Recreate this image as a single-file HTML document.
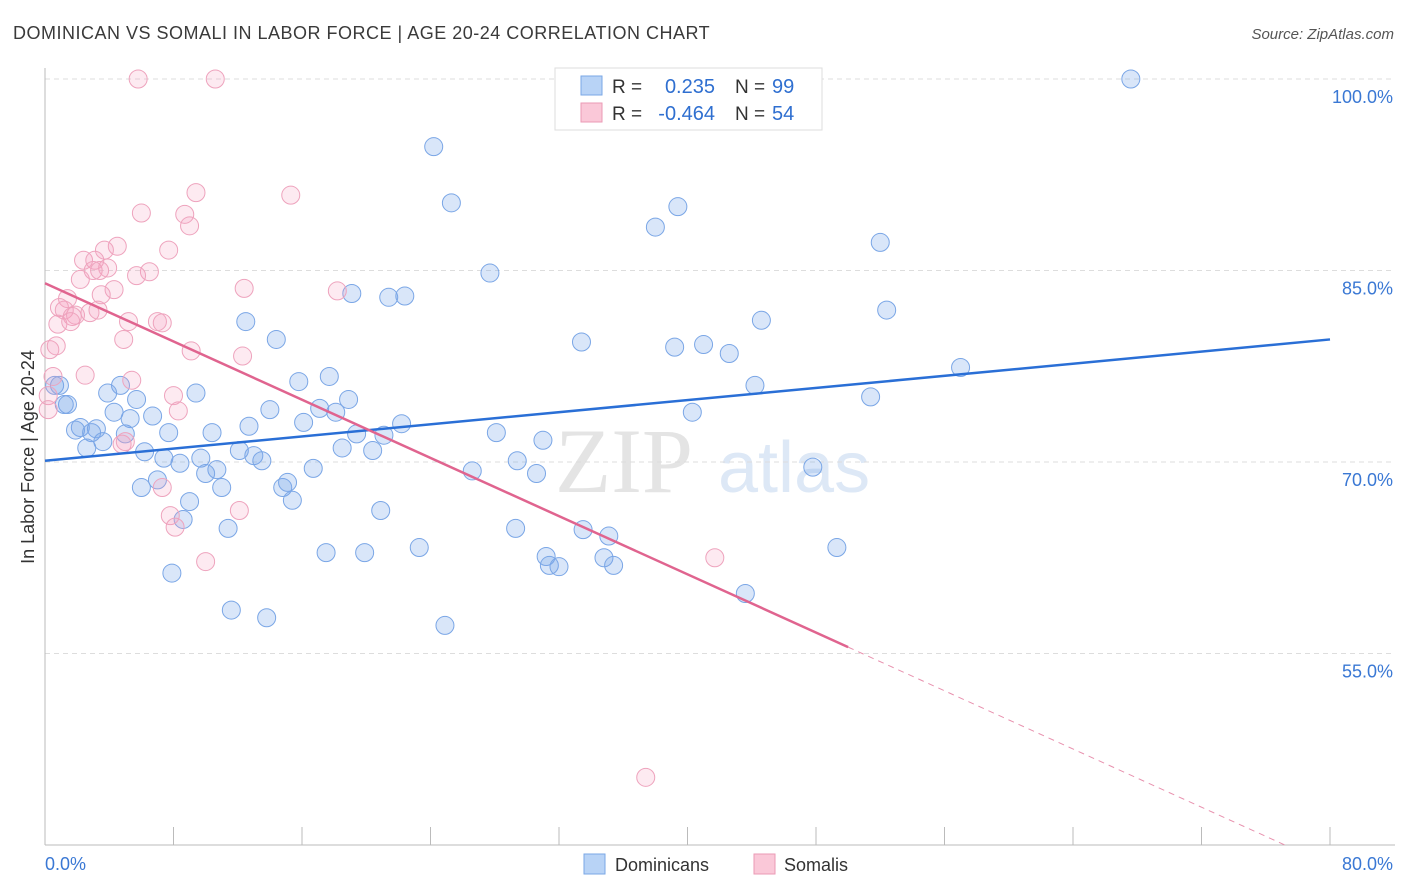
<!DOCTYPE html>
<html><head><meta charset="utf-8"><style>
body{margin:0;background:#fff;font-family:"Liberation Sans",sans-serif;}
svg{display:block}
</style></head><body>
<svg id="chart" width="1406" height="892" xmlns="http://www.w3.org/2000/svg" font-family="Liberation Sans, sans-serif">
<text x="13" y="39" font-size="18" fill="#3a3a3a" letter-spacing="0.5">DOMINICAN VS SOMALI IN LABOR FORCE | AGE 20-24 CORRELATION CHART</text>
<text x="1394" y="39" font-size="15" fill="#555" text-anchor="end" font-style="italic">Source: ZipAtlas.com</text>
<g>
<text x="555" y="492" font-size="92" fill="#e4e4e4" font-family="Liberation Serif, serif">ZIP</text>
<text x="718" y="492" font-size="72" fill="#dde8f6">atlas</text>
</g>
<g id="grid"></g>
<g id="axes"></g>
<g id="pts"></g>
<g id="trends"></g>
<text transform="translate(34,457) rotate(-90)" font-size="18" fill="#333" text-anchor="middle">In Labor Force | Age 20-24</text>
<g>
<rect x="555" y="68" width="267" height="62" fill="#fff" stroke="#ddd"/>
<rect x="581" y="76" width="21" height="19" fill="#b8d3f6" stroke="#7aa7e6"/>
<rect x="581" y="103" width="21" height="19" fill="#fac8d8" stroke="#eb9ab5"/>
<text x="612" y="93" font-size="19" fill="#333">R =</text>
<text x="715" y="93" font-size="20" fill="#2f6fd0" text-anchor="end">0.235</text>
<text x="735" y="93" font-size="19" fill="#333">N =</text>
<text x="772" y="93" font-size="20" fill="#2f6fd0">99</text>
<text x="612" y="120" font-size="19" fill="#333">R =</text>
<text x="715" y="120" font-size="20" fill="#2f6fd0" text-anchor="end">-0.464</text>
<text x="735" y="120" font-size="19" fill="#333">N =</text>
<text x="772" y="120" font-size="20" fill="#2f6fd0">54</text>
</g>
<g>
<rect x="584" y="854" width="21" height="20" fill="#b8d3f6" stroke="#7aa7e6"/>
<text x="615" y="871" font-size="18" fill="#333">Dominicans</text>
<rect x="754" y="854" width="21" height="20" fill="#fac8d8" stroke="#eb9ab5"/>
<text x="784" y="871" font-size="18" fill="#333">Somalis</text>
</g>
</svg>
<script>
const blueX=[67.6,24.2,25.3,39.4,38.0,52.0,27.7,19.1,21.4,22.4,52.4,44.6,12.5,33.4,14.4,39.2,41.0,42.6,0.6,0.9,57.0,15.8,17.7,44.2,4.7,3.9,9.4,5.7,18.9,51.4,1.4,1.2,4.3,14.0,17.1,18.1,40.3,6.7,5.3,22.2,16.1,2.2,1.9,3.2,2.9,12.7,19.4,21.1,10.4,7.7,5.0,28.1,3.6,2.6,31.0,6.2,12.1,20.4,18.5,13.0,13.5,7.4,9.7,29.4,8.4,47.8,16.7,26.6,10.7,10.0,30.6,7.0,6.0,11.0,14.8,15.1,15.4,9.0,8.6,20.9,11.4,29.3,33.5,35.1,23.3,49.3,17.5,19.9,31.2,34.8,31.4,32.0,35.4,7.9,43.6,11.6,13.8,24.9];
const blueY=[100.0,94.7,90.3,90.0,88.4,87.2,84.8,83.2,82.9,83.0,81.9,81.1,81.0,79.4,79.6,79.0,79.2,78.5,76.0,76.0,77.4,76.3,76.7,76.0,76.0,75.4,75.4,74.9,74.9,75.1,74.5,74.5,73.9,74.1,74.2,73.9,73.9,73.6,73.4,73.0,73.1,72.7,72.5,72.6,72.3,72.8,72.2,72.1,72.3,72.3,72.2,72.3,71.6,71.1,71.7,70.8,70.9,70.9,71.1,70.5,70.1,70.3,70.3,70.1,69.9,69.6,69.5,69.3,69.4,69.1,69.1,68.6,68.0,68.0,68.0,68.4,67.0,66.9,65.5,66.2,64.8,64.8,64.7,64.2,63.3,63.3,62.9,62.9,62.6,62.5,61.9,61.8,61.9,61.3,59.7,58.4,57.8,57.2];
const pinkX=[5.8,10.6,9.4,15.3,6.0,8.7,9.0,4.5,3.7,7.7,2.4,3.1,3.9,6.5,5.7,2.2,3.0,3.4,12.4,18.2,4.3,1.4,3.5,0.9,1.2,1.9,2.8,3.3,1.7,0.8,1.6,5.2,7.0,7.3,4.9,0.3,0.7,9.1,12.3,2.5,0.5,5.4,0.2,8.0,0.2,8.3,4.8,5.0,7.3,7.8,8.1,12.1,10.0,41.7,37.4];
const pinkY=[100.0,100.0,91.1,90.9,89.5,89.4,88.5,86.9,86.6,86.6,85.8,85.8,85.2,84.9,84.6,84.3,85.0,85.0,83.6,83.4,83.5,82.8,83.1,82.1,81.9,81.5,81.7,81.9,81.4,80.8,81.0,81.0,81.0,80.9,79.6,78.8,79.1,78.7,78.3,76.8,76.7,76.4,75.2,75.2,74.1,74.0,71.4,71.6,68.0,65.8,64.9,66.2,62.2,62.5,45.3];
const yTicks=[100,85,70,55];
const yTickLabels=["100.0%","85.0%","70.0%","55.0%"];
const blueTrend=[70.1,79.6];
const pinkTrend=[84.0,38.4];
const pinkSolidEnd=50.0;

const X0=45,X1=1330,Y0=845,YT=68;
const sx=v=>X0+(v/80)*(X1-X0);
const sy=v=>79+(100-v)*191.5/15;
const NS="http://www.w3.org/2000/svg";
function mk(tag,attrs,parent){const e=document.createElementNS(NS,tag);for(const k in attrs)e.setAttribute(k,attrs[k]);parent.appendChild(e);return e;}
const grid=document.getElementById('grid'),axes=document.getElementById('axes'),pts=document.getElementById('pts'),tr=document.getElementById('trends');
yTicks.forEach((t,i)=>{
 const l=mk('line',{x1:X0,x2:1395,y1:sy(t),y2:sy(t),stroke:'#ddd','stroke-dasharray':'5,4'},grid);
 
 
 const tx=mk('text',{x:1393,y:sy(t)+24,'font-size':18,fill:'#3a78d4','text-anchor':'end'},axes);
 tx.textContent=yTickLabels[i];
 
 
});
const ya=mk('line',{x1:X0,x2:X0,y1:YT,y2:Y0,stroke:'#bbb'},axes);


const xa=mk('line',{x1:X0,x2:1395,y1:Y0,y2:Y0,stroke:'#bbb'},axes);


for(let i=0;i<=10;i++){const tk=mk('line',{x1:sx(i*8),x2:sx(i*8),y1:Y0,y2:Y0-18,stroke:'#bbb'},axes);
 
 }
const xl0=mk('text',{x:45,y:870,'font-size':18,fill:'#3a78d4'},axes);xl0.textContent='0.0%';


const xl1=mk('text',{x:1393,y:870,'font-size':18,fill:'#3a78d4','text-anchor':'end'},axes);xl1.textContent='80.0%';


blueX.forEach((v,i)=>{const c=mk('circle',{cx:sx(v),cy:sy(blueY[i]),r:9,fill:'rgba(120,165,235,0.28)',stroke:'#7aa6e6','stroke-width':1},pts);
 
 });
pinkX.forEach((v,i)=>{const c=mk('circle',{cx:sx(v),cy:sy(pinkY[i]),r:9,fill:'rgba(245,160,190,0.22)',stroke:'#eea3bd','stroke-width':1},pts);
 
 });
const bl=mk('line',{x1:sx(0),y1:sy(blueTrend[0]),x2:sx(80),y2:sy(blueTrend[1]),stroke:'#2a6fd6','stroke-width':2.5},tr);


const pAt=x=>pinkTrend[0]+(pinkTrend[1]-pinkTrend[0])*x/80;
const ps=mk('line',{x1:sx(0),y1:sy(pAt(0)),x2:sx(pinkSolidEnd),y2:sy(pAt(pinkSolidEnd)),stroke:'#e0648f','stroke-width':2.5},tr);


const xEnd=80*(40-pinkTrend[0])/(pinkTrend[1]-pinkTrend[0]);
const pd=mk('line',{x1:sx(pinkSolidEnd),y1:sy(pAt(pinkSolidEnd)),x2:sx(Math.min(80,xEnd)),y2:sy(pAt(Math.min(80,xEnd))),stroke:'#e891ae','stroke-width':1,'stroke-dasharray':'6,5'},tr);


</script>
</body></html>
